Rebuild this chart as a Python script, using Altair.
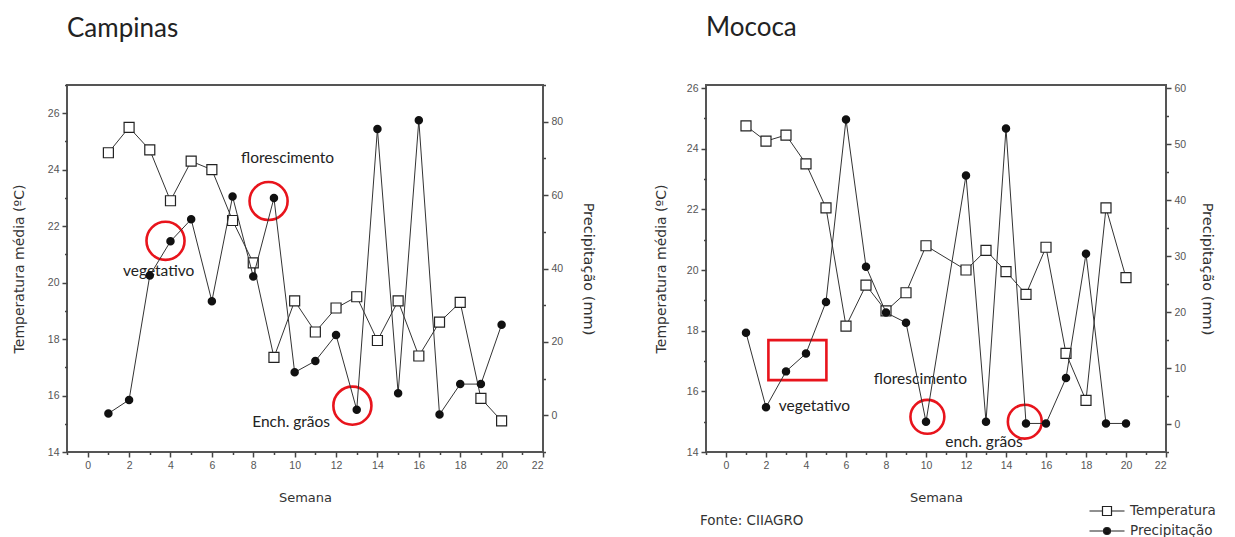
import altair as alt
import pandas as pd

# ---------------- data ----------------
weeks_camp = list(range(1, 21))
temp_camp = [24.6, 25.5, 24.7, 22.9, 24.3, 24.0, 22.2, 20.7, 17.35, 19.35,
             18.25, 19.1, 19.5, 17.95, 19.35, 17.4, 18.6, 19.3, 15.9, 15.1]
prec_camp = [0.5, 4.2, 38.1, 47.4, 53.4, 31.1, 59.6, 37.8, 59.2, 11.7,
             14.8, 21.9, 1.5, 78.0, 6.0, 80.4, 0.2, 8.5, 8.5, 24.7]

weeks_moc = [1, 2, 3, 4, 5, 6, 7, 8, 9, 10, 12, 13, 14, 15, 16, 17, 18, 19, 20]
temp_moc = [24.75, 24.25, 24.45, 23.5, 22.05, 18.15, 19.5, 18.65, 19.25, 20.8,
            20.0, 20.65, 19.95, 19.2, 20.75, 17.25, 15.7, 22.05, 19.75]
prec_moc = [16.3, 3.0, 9.4, 12.6, 21.8, 54.4, 28.1, 19.9, 18.1, 0.4,
            44.4, 0.4, 52.8, 0.1, 0.1, 8.2, 30.4, 0.1, 0.1]

# annotations (in week / temperature units)
camp_lab_text = ["florescimento", "vegetativo", "Ench. grãos"]
camp_lab_x = [9.66, 3.43, 9.83]
camp_lab_y = [24.4, 20.41, 15.07]
camp_circ_x = [3.76, 8.74, 12.79]
camp_circ_y = [21.48, 22.89, 15.64]

moc_lab_text = ["vegetativo", "florescimento", "ench. grãos"]
moc_lab_x = [4.42, 9.72, 12.9]
moc_lab_y = [15.52, 16.4, 14.33]
moc_circ_x = [10.07, 14.94]
moc_circ_y = [15.16, 15.0]
moc_rect = {"x": [2.12], "x2": [5.02], "y": [16.37], "y2": [17.69]}

series = ["Temperatura", "Precipitação"]

# axis tick positions (major labelled every `step`, minor in between)
x_ticks = list(range(-1, 23))
camp_t_ticks = list(range(14, 28))
camp_p_ticks = list(range(-10, 91, 10))
moc_t_ticks = list(range(14, 27))
moc_p_ticks = list(range(-5, 61, 5))

RED = "#e8141c"
AX = "#444444"
LBLFONT = "Liberation Sans"
TFONT = "DejaVu Sans"


def tick_axis(values, step, **kw):
    test = f"datum.value % {step} === 0"
    return alt.Axis(values=values,
                    labelExpr=f"{test} ? datum.label : ''",
                    tickSize={"condition": {"test": test, "value": 5}, "value": 2.5},
                    **kw)


def panel(title, weeks, temp, prec, tdom, tticks, pdom, pticks, pstep, width, height,
          lab_text, lab_x, lab_y, circ_x, circ_y, circ_size,
          tp_left, tp_right, title_offset, rect=None, legend=False):
    df = pd.DataFrame({"semana": weeks, "temp": temp, "prec": prec})

    x = alt.X("semana:Q",
              scale=alt.Scale(domain=[-1, 22], nice=False, zero=False),
              axis=tick_axis(x_ticks, 2, title="Semana",
                             titlePadding=21, titleFontSize=13,
                             titleFontWeight="normal", titleColor="#333",
                             titleFont=TFONT))
    yt = alt.Y("temp:Q",
               scale=alt.Scale(domain=tdom, nice=False, zero=False),
               axis=tick_axis(tticks, 2, orient="left",
                              title="Temperatura média (ºC)",
                              titlePadding=tp_left, titleFontSize=14,
                              titleFontWeight="normal", titleColor="#333",
                              titleFont=TFONT))
    yp = alt.Y("prec:Q",
               scale=alt.Scale(domain=pdom, nice=False, zero=False),
               axis=tick_axis(pticks, pstep, orient="right",
                              title="Precipitação (mm)",
                              titlePadding=tp_right, titleFontSize=14.5,
                              titleFontWeight="normal", titleColor="#333",
                              titleFont=TFONT))

    base = alt.Chart(df)
    t_line = base.mark_line(color="#333", strokeWidth=1).encode(x=x, y=yt)
    t_pts = base.mark_point(shape="square", filled=True, fill="white",
                            stroke="#222", strokeWidth=1.2, size=100,
                            opacity=1).encode(x=x, y=yt)

    labdf = pd.DataFrame({"semana": lab_x, "temp": lab_y, "txt": lab_text})
    labs = alt.Chart(labdf).mark_text(font="Lato", fontSize=15.5,
                                      color="#222").encode(x=x, y=yt, text="txt:N")
    circdf = pd.DataFrame({"semana": circ_x, "temp": circ_y})
    circs = alt.Chart(circdf).mark_point(shape="circle", filled=False,
                                         stroke=RED, strokeWidth=2.6,
                                         size=circ_size, opacity=1).encode(x=x, y=yt)
    tlayers = [t_line, t_pts, labs, circs]
    if rect is not None:
        rdf = pd.DataFrame({"semana": rect["x"], "semana2": rect["x2"],
                            "temp": rect["y"], "temp2": rect["y2"]})
        rmark = alt.Chart(rdf).mark_rect(fill="white", fillOpacity=0,
                                         stroke=RED, strokeWidth=2.6).encode(
            x=x, x2="semana2:Q", y=yt, y2="temp2:Q")
        tlayers.append(rmark)
    if legend:
        path_t = "M-1.75,0H-0.45M0.45,0H1.75M-0.45,-0.45H0.45V0.45H-0.45Z"
        path_p = "M-1.75,0H1.75M-0.35,0A0.35,0.35,0,1,0,0.35,0A0.35,0.35,0,1,0,-0.35,0Z"
        legdf = pd.DataFrame({"serie": series, "semana": [-50, -50],
                              "temp": [20, 20]})
        lg = alt.Legend(title=None, orient="none", legendX=390, legendY=415,
                        labelFont=TFONT, labelFontSize=13.5, labelColor="#333",
                        symbolSize=400, symbolStrokeWidth=1.2, rowPadding=2,
                        labelOffset=12, symbolOpacity=1)
        leg = alt.Chart(legdf).mark_point(clip=True, filled=False, size=400,
                                          opacity=1, strokeWidth=1.2).encode(
            x=x, y=yt,
            shape=alt.Shape("serie:N", scale=alt.Scale(domain=series,
                                                       range=[path_t, path_p]),
                            legend=lg),
            fill=alt.Fill("serie:N", scale=alt.Scale(domain=series,
                                                     range=["white", "#111"]),
                          legend=lg),
            stroke=alt.Stroke("serie:N", scale=alt.Scale(domain=series,
                                                         range=["#222", "#222"]),
                              legend=lg))
        fonte = alt.Chart(legdf.head(1)).mark_text(
            text="Fonte: CIIAGRO", align="left", baseline="middle",
            font=TFONT, fontSize=13.5, color="#333").encode(
            x=alt.value(-6), y=alt.value(436))
        tlayers += [leg, fonte]

    tgroup = alt.layer(*tlayers)

    p_line = base.mark_line(color="#333", strokeWidth=1).encode(x=x, y=yp)
    p_pts = base.mark_point(shape="circle", filled=True, fill="#111",
                            stroke="#111", size=42, opacity=1).encode(x=x, y=yp)
    pgroup = alt.layer(p_line, p_pts)

    return alt.layer(tgroup, pgroup).resolve_scale(y="independent").properties(
        width=width, height=height,
        title=alt.TitleParams(title, anchor="start", frame="group",
                              font="Lato", fontSize=26, fontWeight="normal",
                              color="#222", offset=title_offset))


left = panel("Campinas", weeks_camp, temp_camp, prec_camp,
             [14, 27], camp_t_ticks, [-10, 90], camp_p_ticks, 20,
             476, 367, camp_lab_text, camp_lab_x, camp_lab_y,
             camp_circ_x, camp_circ_y, 1450, 21, 18, 42)
right = panel("Mococa", weeks_moc, temp_moc, prec_moc,
              [14, 26.1], moc_t_ticks, [-5, 60.55], moc_p_ticks, 10,
              460, 367, moc_lab_text, moc_lab_x, moc_lab_y,
              moc_circ_x, moc_circ_y, 1150, 18, 14, 42, rect=moc_rect, legend=True)

chart = alt.hconcat(left, right, spacing=56).resolve_scale(
    shape="independent", fill="independent", stroke="independent"
).configure(
    padding={"left": 3, "top": 6, "right": 5, "bottom": 0},
    background="white",
).configure_view(
    stroke="#555", strokeWidth=2
).configure_axis(
    domain=False, grid=False, ticks=True, tickWidth=1.5,
    tickColor=AX, labelFont=LBLFONT, labelFontSize=10.5, labelColor="#555",
    labelPadding=3
)

chart.save("out.html", embed_options={"renderer": "svg", "actions": False})
